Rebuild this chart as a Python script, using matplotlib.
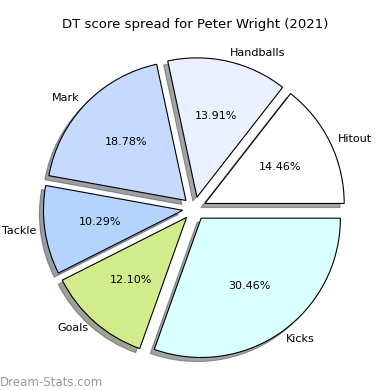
import matplotlib
matplotlib.use("Agg")
import matplotlib.pyplot as plt

# Slice data, counter-clockwise from the east
labels = ["Hitout", "Handballs", "Mark", "Tackle", "Goals", "Kicks"]
sizes = [14.46, 13.91, 18.78, 10.29, 12.10, 30.46]
colors = ["#ffffff", "#eaf0ff", "#c6d9ff", "#b5d3ff", "#d2ec8c", "#d9ffff"]
explode = [0.08] * len(sizes)

fig = plt.figure(figsize=(3.9, 3.9), dpi=100)
ax = fig.add_axes([0.017, 0.045, 0.96, 0.845])

ax.pie(sizes, explode=explode, labels=labels, colors=colors,
       autopct="%1.2f%%", shadow=True, startangle=0, radius=0.95,
       labeldistance=1.06,
       wedgeprops={"edgecolor": "black", "linewidth": 0.8},
       textprops={"fontsize": 8})
ax.axis("equal")

fig.suptitle("DT score spread for Peter Wright (2021)", fontsize=9.5, y=0.955)
fig.text(0.0, 0.01, "Dream-Stats.com", fontsize=8.5, color="#999999")

plt.savefig("out.png", dpi=100)
